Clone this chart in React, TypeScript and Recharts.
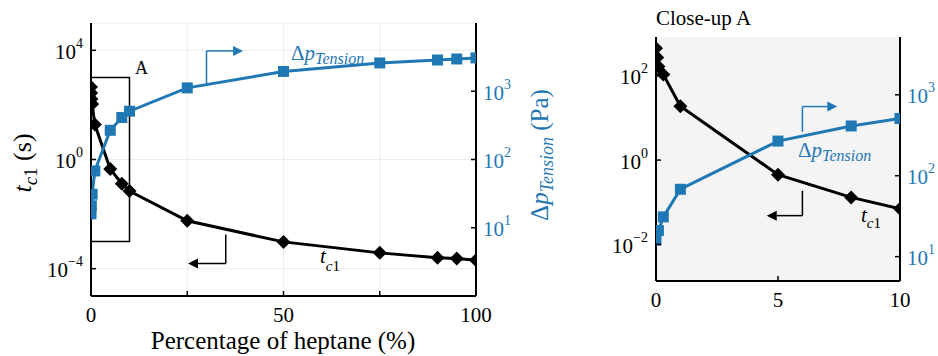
import React from 'react'
import {
  ComposedChart,
  Line,
  XAxis,
  YAxis,
  CartesianGrid,
  ReferenceArea,
  ReferenceLine,
} from 'recharts'

// heptane fraction (%) for each measured series
const heptaneT = [0, 0.05, 0.1, 0.3, 1, 5, 8, 10, 25, 50, 75, 90, 95, 100]
const tc1 = [450, 270, 165, 107, 19, 0.45, 0.13, 0.07, 0.0057, 0.00096, 0.00038, 0.00025, 0.000235, 0.000205]
const heptaneP = [0, 0.1, 0.3, 1, 5, 8, 10, 25, 50, 75, 90, 95, 100]
const dpTension = [16, 21, 31, 68, 268, 412, 510, 1120, 1950, 2600, 2870, 2970, 3080]

const mainXTicks = [0, 25, 50, 75, 100]
const mainXLabels = [0, 50, 100]
const mainLeftTicks = [1e-4, 1, 1e4]
const mainRightTicks = [10, 100, 1000]
const zoomXTicks = [0, 5, 10]
const zoomLeftTicks = [1e-2, 1, 1e2]
const zoomRightTicks = [10, 100, 1000]

const BLUE = '#1f77b4'
const FONT = '"Liberation Serif", "Times New Roman", serif'

const tData = heptaneT.map((x, i) => ({ x, t: tc1[i] }))
const pData = heptaneP.map((x, i) => ({ x, p: dpTension[i] }))

// plot boxes, only used to clip markers at the frame like matplotlib does
type Box = { l: number; r: number; t: number; b: number }
const mainBox: Box = { l: 91, r: 476, t: 23, b: 296 }
const zoomBox: Box = { l: 96, r: 340, t: 37, b: 281 }

const Pow = ({ v }: { v: number }) => {
  const e = Math.round(Math.log10(v))
  return (
    <>
      <tspan>10</tspan>
      <tspan dy={-11} fontSize={14}>{e < 0 ? `\u2212${-e}` : e}</tspan>
    </>
  )
}

function clip(pts: number[][], box: Box) {
  const edges: [(p: number[]) => boolean, (a: number[], b: number[]) => number[]][] = [
    [(p) => p[0] >= box.l, (a, b) => { const k = (box.l - a[0]) / (b[0] - a[0]); return [box.l, a[1] + k * (b[1] - a[1])] }],
    [(p) => p[0] <= box.r, (a, b) => { const k = (box.r - a[0]) / (b[0] - a[0]); return [box.r, a[1] + k * (b[1] - a[1])] }],
    [(p) => p[1] >= box.t, (a, b) => { const k = (box.t - a[1]) / (b[1] - a[1]); return [a[0] + k * (b[0] - a[0]), box.t] }],
    [(p) => p[1] <= box.b, (a, b) => { const k = (box.b - a[1]) / (b[1] - a[1]); return [a[0] + k * (b[0] - a[0]), box.b] }],
  ]
  let out = pts
  for (const [inside, cut] of edges) {
    const src = out
    out = []
    for (let i = 0; i < src.length; i++) {
      const cur = src[i]
      const prev = src[(i + src.length - 1) % src.length]
      if (inside(cur)) {
        if (!inside(prev)) out.push(cut(prev, cur))
        out.push(cur)
      } else if (inside(prev)) {
        out.push(cut(prev, cur))
      }
    }
  }
  return out.length ? 'M' + out.map((p) => `${p[0]},${p[1]}`).join('L') + 'Z' : ''
}

const marker = (kind: 'diamond' | 'square', box: Box) => (p: any) => {
  const { cx, cy, index } = p
  if (cx == null || cy == null) return <g key={`${kind}${index}`} />
  const pts =
    kind === 'diamond'
      ? [[cx, cy - 7], [cx + 7, cy], [cx, cy + 7], [cx - 7, cy]]
      : [[cx - 5.5, cy - 5.5], [cx + 5.5, cy - 5.5], [cx + 5.5, cy + 5.5], [cx - 5.5, cy + 5.5]]
  return <path key={`${kind}${index}`} d={clip(pts, box)} fill={kind === 'diamond' ? '#000' : BLUE} />
}

const leftTick = (p: any) => (
  <g>
    <line x1={p.x} x2={p.x + 5} y1={p.y} y2={p.y} stroke="#000" strokeWidth={1.5} />
    <text x={p.x - 8} y={p.y + 8.5} textAnchor="end" fontSize={21} fontFamily={FONT} fill="#000">
      <Pow v={p.payload.value} />
    </text>
  </g>
)

const rightTick = (p: any) => (
  <g>
    <line x1={p.x} x2={p.x - 5} y1={p.y} y2={p.y} stroke="#000" strokeWidth={1.5} />
    <text x={p.x + 7} y={p.y + 8.5} textAnchor="start" fontSize={21} fontFamily={FONT} fill={BLUE}>
      <Pow v={p.payload.value} />
    </text>
  </g>
)

const bottomTick = (labels: number[]) => (p: any) => (
  <g>
    <line x1={p.x} x2={p.x} y1={p.y} y2={p.y - 5} stroke="#000" strokeWidth={1.5} />
    {labels.includes(p.payload.value) && (
      <text x={p.x} y={p.y + 25.5} textAnchor="middle" fontSize={21} fontFamily={FONT} fill="#000">
        {p.payload.value}
      </text>
    )}
  </g>
)

const topTick = (p: any) => (
  <line x1={p.x} x2={p.x} y1={p.y} y2={p.y + 5} stroke="#000" strokeWidth={1.5} />
)

const arrow = (color: string) => (p: any) => {
  const { x1, y1, x2, y2 } = p
  if ([x1, y1, x2, y2].some((v) => v == null || isNaN(v))) return <g />
  const dx = x2 - x1
  const dy = y2 - y1
  const len = Math.hypot(dx, dy) || 1
  const ux = dx / len
  const uy = dy / len
  const bx = x2 - ux * 10
  const by = y2 - uy * 10
  return (
    <g>
      <line x1={x1} y1={y1} x2={bx} y2={by} stroke={color} strokeWidth={1.5} />
      <path d={`M${x2},${y2}L${bx - uy * 5},${by + ux * 5}L${bx + uy * 5},${by - ux * 5}Z`} fill={color} />
    </g>
  )
}

const segment = (color: string) => (p: any) => {
  const { x1, y1, x2, y2 } = p
  if ([x1, y1, x2, y2].some((v) => v == null || isNaN(v))) return <g />
  return <line x1={x1} y1={y1} x2={x2} y2={y2} stroke={color} strokeWidth={1.5} />
}

const axisLine = { stroke: '#000', strokeWidth: 2 }

function MainChart() {
  return (
    <ComposedChart width={560} height={356} margin={{ top: 23, right: 0, bottom: 0, left: 0 }}>
      <CartesianGrid yAxisId="left" stroke="#ececec" strokeWidth={1} />
      <XAxis
        dataKey="x"
        type="number"
        domain={[0, 100]}
        ticks={mainXTicks}
        interval={0}
        allowDataOverflow
        height={60}
        tickSize={0}
        tickMargin={0}
        tickLine={false}
        axisLine={axisLine}
        tick={bottomTick(mainXLabels)}
      />
      <XAxis
        xAxisId="top"
        dataKey="x"
        type="number"
        orientation="top"
        domain={[0, 100]}
        ticks={mainXTicks}
        interval={0}
        height={0}
        tickSize={0}
        tickMargin={0}
        tickLine={false}
        axisLine={axisLine}
        tick={topTick}
      />
      <YAxis
        yAxisId="left"
        scale="log"
        domain={[1e-5, 1e5]}
        allowDataOverflow
        ticks={mainLeftTicks}
        interval={0}
        width={91}
        tickSize={0}
        tickMargin={0}
        tickLine={false}
        axisLine={axisLine}
        tick={leftTick}
      />
      <YAxis
        yAxisId="right"
        orientation="right"
        scale="log"
        domain={[1, 1e4]}
        allowDataOverflow
        ticks={mainRightTicks}
        interval={0}
        width={84}
        tickSize={0}
        tickMargin={0}
        tickLine={false}
        axisLine={axisLine}
        tick={rightTick}
      />
      <ReferenceArea yAxisId="left" x1={0} x2={10} y1={1e-3} y2={1e3} fill="none" stroke="#000" strokeWidth={1.5} ifOverflow="visible" />
      <Line yAxisId="left" data={tData} dataKey="t" stroke="#000" strokeWidth={3} dot={marker('diamond', mainBox)} isAnimationActive={false} />
      <Line yAxisId="right" data={pData} dataKey="p" stroke={BLUE} strokeWidth={3} dot={marker('square', mainBox)} isAnimationActive={false} />
      <ReferenceLine yAxisId="right" segment={[{ x: 30, y: 1300 }, { x: 30, y: 3900 }]} shape={segment(BLUE)} />
      <ReferenceLine yAxisId="right" segment={[{ x: 30, y: 3900 }, { x: 39.5, y: 3900 }]} shape={arrow(BLUE)} />
      <ReferenceLine yAxisId="left" segment={[{ x: 35, y: 1.8e-3 }, { x: 35, y: 1.55e-4 }]} shape={segment('#000')} />
      <ReferenceLine yAxisId="left" segment={[{ x: 35, y: 1.55e-4 }, { x: 25.2, y: 1.55e-4 }]} shape={arrow('#000')} />
    </ComposedChart>
  )
}

function ZoomChart() {
  return (
    <ComposedChart width={378} height={356} margin={{ top: 37, right: 0, bottom: 0, left: 0 }}>
      <CartesianGrid yAxisId="left" horizontal={false} vertical={false} fill="#f4f4f4" />
      <XAxis
        dataKey="x"
        type="number"
        domain={[0, 10]}
        ticks={zoomXTicks}
        interval={0}
        allowDataOverflow
        height={75}
        tickSize={0}
        tickMargin={0}
        tickLine={false}
        axisLine={axisLine}
        tick={bottomTick(zoomXTicks)}
      />
      <XAxis
        xAxisId="top"
        dataKey="x"
        type="number"
        orientation="top"
        domain={[0, 10]}
        ticks={zoomXTicks}
        interval={0}
        height={0}
        tickSize={0}
        tickMargin={0}
        tickLine={false}
        axisLine={axisLine}
        tick={topTick}
      />
      <YAxis
        yAxisId="left"
        scale="log"
        domain={[1.35e-3, 832]}
        allowDataOverflow
        ticks={zoomLeftTicks}
        interval={0}
        width={96}
        tickSize={0}
        tickMargin={0}
        tickLine={false}
        axisLine={axisLine}
        tick={leftTick}
      />
      <YAxis
        yAxisId="right"
        orientation="right"
        scale="log"
        domain={[5, 5180]}
        allowDataOverflow
        ticks={zoomRightTicks}
        interval={0}
        width={38}
        tickSize={0}
        tickMargin={0}
        tickLine={false}
        axisLine={axisLine}
        tick={rightTick}
      />
      <Line yAxisId="left" data={tData} dataKey="t" stroke="#000" strokeWidth={3} dot={marker('diamond', zoomBox)} isAnimationActive={false} />
      <Line yAxisId="right" data={pData} dataKey="p" stroke={BLUE} strokeWidth={3} dot={marker('square', zoomBox)} isAnimationActive={false} />
      <ReferenceLine yAxisId="right" segment={[{ x: 6, y: 350 }, { x: 6, y: 716 }]} shape={segment(BLUE)} />
      <ReferenceLine yAxisId="right" segment={[{ x: 6, y: 716 }, { x: 7.43, y: 716 }]} shape={arrow(BLUE)} />
      <ReferenceLine yAxisId="left" segment={[{ x: 6, y: 0.187 }, { x: 6, y: 0.048 }]} shape={segment('#000')} />
      <ReferenceLine yAxisId="left" segment={[{ x: 6, y: 0.048 }, { x: 4.54, y: 0.048 }]} shape={arrow('#000')} />
    </ComposedChart>
  )
}

const Tc1 = ({ x, y, size, sub, dy }: { x: number; y: number; size: number; sub: number; dy: number }) => (
  <text x={x} y={y} fontSize={size} fill="#000">
    <tspan fontStyle="italic">t</tspan>
    <tspan fontStyle="italic" fontSize={sub} dy={dy}>c</tspan>
    <tspan fontSize={sub}>1</tspan>
  </text>
)

const DpLabel = ({ x, y }: { x: number; y: number }) => (
  <text x={x} y={y} fontSize={21} fill={BLUE}>
    <tspan>Δ</tspan>
    <tspan fontStyle="italic">p</tspan>
    <tspan fontStyle="italic" fontSize={16} dy={4}>Tension</tspan>
  </text>
)

export default function App() {
  return (
    <div style={{ position: 'absolute', left: 0, top: 0, width: 938, height: 356, background: '#fff', fontFamily: FONT, overflow: 'hidden' }}>
      <div style={{ position: 'absolute', left: 0, top: 0 }}>
        <MainChart />
      </div>
      <div style={{ position: 'absolute', left: 560, top: 0 }}>
        <ZoomChart />
      </div>
      <svg width={938} height={356} style={{ position: 'absolute', left: 0, top: 0, pointerEvents: 'none' }} fontFamily={FONT}>
        {/* axis titles */}
        <text transform="translate(31,163) rotate(-90)" textAnchor="middle" fontSize={26} fill="#000">
          <tspan fontStyle="italic">t</tspan>
          <tspan fontStyle="italic" fontSize={19} dy={6}>c</tspan>
          <tspan fontSize={19}>1</tspan>
          <tspan dy={-6}> (s)</tspan>
        </text>
        <text transform="translate(548,155) rotate(-90)" textAnchor="middle" fontSize={25} fill={BLUE}>
          <tspan>Δ</tspan>
          <tspan fontStyle="italic">p</tspan>
          <tspan fontStyle="italic" fontSize={18} dy={5}>Tension</tspan>
          <tspan dy={-5}> (Pa)</tspan>
        </text>
        <text x={283} y={349} textAnchor="middle" fontSize={25} fill="#000">Percentage of heptane (%)</text>
        {/* annotations */}
        <text x={135} y={74} fontSize={18} fill="#000">A</text>
        <text x={656} y={25} fontSize={21} fill="#000">Close-up A</text>
        <DpLabel x={291} y={60} />
        <Tc1 x={320} y={263} size={21} sub={15} dy={8} />
        <DpLabel x={798} y={157} />
        <Tc1 x={861} y={222} size={21} sub={15} dy={6} />
      </svg>
    </div>
  )
}
